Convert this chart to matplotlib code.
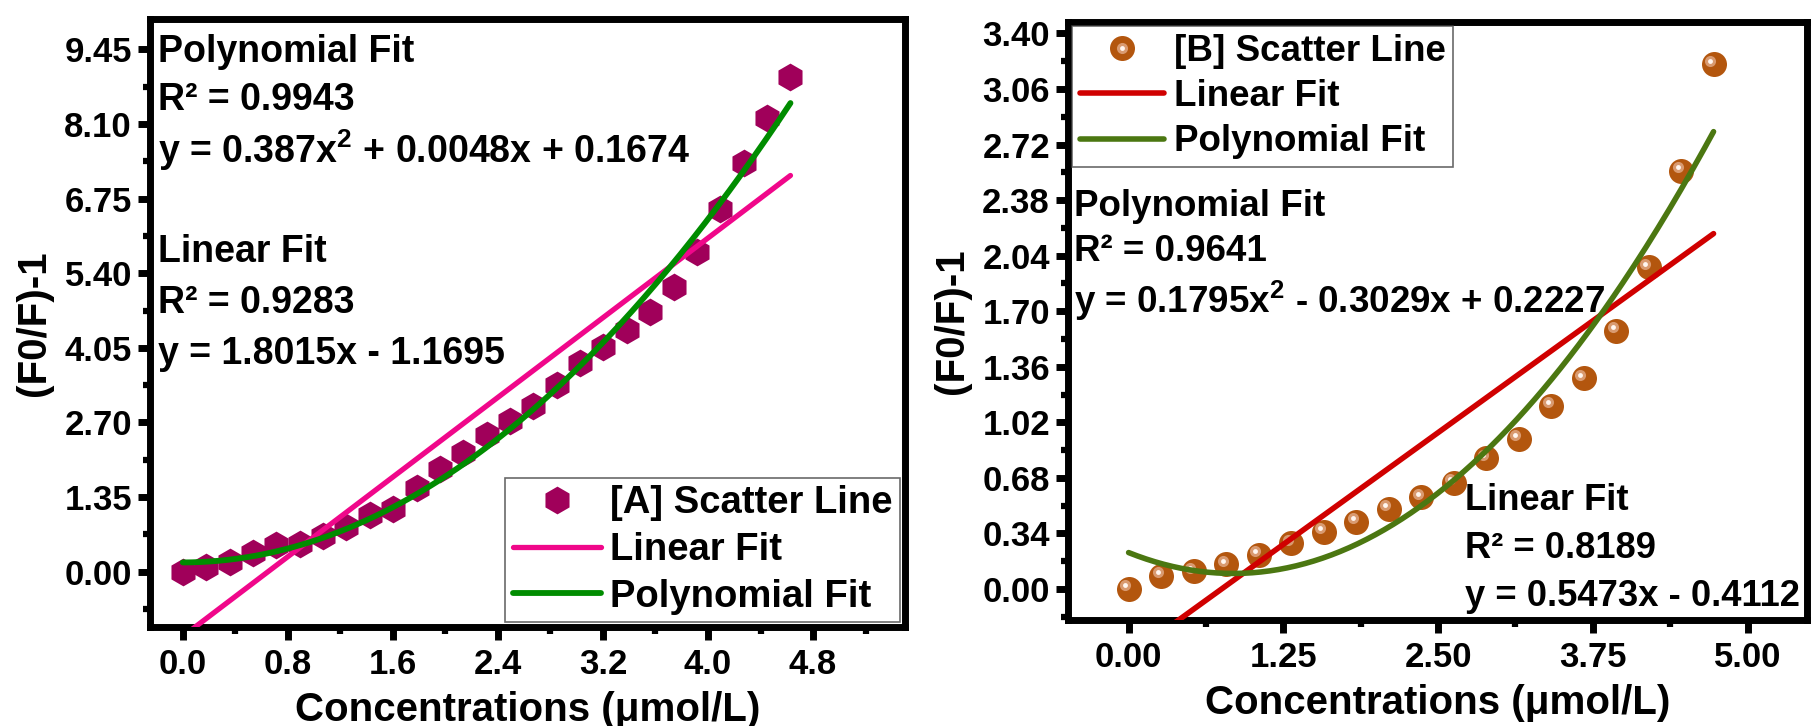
import matplotlib
matplotlib.use("Agg")
import matplotlib.pyplot as plt
import numpy as np
from matplotlib.transforms import offset_copy
from matplotlib.ticker import MultipleLocator, FormatStrFormatter

plt.rcParams["font.family"] = ["Liberation Sans", "DejaVu Sans"]
plt.rcParams["font.weight"] = "bold"
plt.rcParams["mathtext.fontset"] = "custom"
plt.rcParams["mathtext.rm"] = "Liberation Sans:bold"
plt.rcParams["mathtext.bf"] = "Liberation Sans:bold"

# Sample A
conc_a = [0.000, 0.178, 0.356, 0.534, 0.712, 0.890, 1.068, 1.246, 1.424, 1.602,
          1.780, 1.958, 2.136, 2.314, 2.492, 2.670, 2.848, 3.026, 3.204, 3.382,
          3.560, 3.738, 3.916, 4.094, 4.272, 4.450, 4.628]
quench_a = [0.00, 0.08, 0.18, 0.34, 0.48, 0.50, 0.64, 0.81, 1.02, 1.14,
            1.52, 1.85, 2.15, 2.48, 2.73, 3.00, 3.38, 3.77, 4.07, 4.38,
            4.69, 5.15, 5.78, 6.57, 7.40, 8.20, 8.95]
lin_a = (1.8015, -1.1695)
lin_r2_a = "0.9283"
poly_a = (0.387, 0.0048, 0.1674)
poly_r2_a = "0.9943"

# Sample B
conc_b = [0.000, 0.263, 0.525, 0.788, 1.050, 1.313, 1.575, 1.838, 2.100, 2.363,
          2.625, 2.888, 3.150, 3.413, 3.675, 3.938, 4.200, 4.463, 4.725]
quench_b = [0.00, 0.08, 0.11, 0.15, 0.21, 0.28, 0.35, 0.41, 0.49, 0.56,
            0.65, 0.80, 0.92, 1.12, 1.29, 1.58, 1.97, 2.56, 3.21]
lin_b = (0.5473, -0.4112)
lin_r2_b = "0.8189"
poly_b = (0.1795, -0.3029, 0.2227)
poly_r2_b = "0.9641"

TICK_FS = 25
SQ = r"$^{\mathbf{2}}$"


def style_axes(ax, xmaj, ymaj, xfmt, yfmt):
    for s in ax.spines.values():
        s.set_linewidth(5)
    ax.xaxis.set_major_locator(MultipleLocator(xmaj))
    ax.xaxis.set_minor_locator(MultipleLocator(xmaj / 2))
    ax.yaxis.set_major_locator(MultipleLocator(ymaj))
    ax.yaxis.set_minor_locator(MultipleLocator(ymaj / 2))
    ax.xaxis.set_major_formatter(FormatStrFormatter(xfmt))
    ax.yaxis.set_major_formatter(FormatStrFormatter(yfmt))
    ax.tick_params(which="major", direction="out", length=9, width=5,
                   labelsize=TICK_FS)
    ax.tick_params(which="minor", direction="out", length=5, width=4.5)
    ax.tick_params(axis="x", which="major", pad=6)
    ax.tick_params(axis="y", which="major", pad=4)
    for lab in ax.get_xticklabels() + ax.get_yticklabels():
        lab.set_fontweight("bold")
    ax.set_xlabel("Concentrations (μmol/L)", fontsize=29, fontweight="bold",
                  labelpad=7)
    ax.set_ylabel("(F0/F)-1", fontsize=29, fontweight="bold", labelpad=8)


def fit_curves(x, lin, poly):
    xs = np.linspace(0, max(x), 200)
    return xs, lin[0] * xs + lin[1], poly[0] * xs ** 2 + poly[1] * xs + poly[2]


def legend_box(ax, handles, labels, loc, size):
    leg = ax.legend(handles, labels, loc=loc, fontsize=size, frameon=True,
                    fancybox=False, handlelength=2.3, handletextpad=0.25,
                    borderpad=0.2, labelspacing=0.28, borderaxespad=0.12)
    leg.get_frame().set_edgecolor("#444444")
    leg.get_frame().set_linewidth(1.2)
    return leg


def notes(lines, x, size):
    for s, ypix in lines:
        fig.text(x / 1811, 1 - ypix / 726, s, fontsize=size, fontweight="bold",
                 va="center", ha="left")


fig = plt.figure(figsize=(18.11, 7.26), dpi=100)
ax1 = fig.add_axes([0.0828, 0.1364, 0.4169, 0.8375])
ax2 = fig.add_axes([0.5897, 0.146, 0.4081, 0.8237])

# Panel A
xs, ylin, ypoly = fit_curves(conc_a, lin_a, poly_a)
h_sc = ax1.plot(conc_a, quench_a, "h", ms=20, color="#A0005A", mec="none",
                zorder=2)[0]
h_lin = ax1.plot(xs, ylin, color="#F0078A", lw=3.8, solid_capstyle="round",
                 zorder=3)[0]
h_poly = ax1.plot(xs, ypoly, color="#008C00", lw=4.2, solid_capstyle="round",
                  zorder=4)[0]
ax1.set_xlim(-0.25, 5.5)
ax1.set_ylim(-1.0, 10.0)
style_axes(ax1, 0.8, 1.35, "%.1f", "%.2f")
legend_box(ax1, [h_sc, h_lin, h_poly],
           ["[A] Scatter Line", "Linear Fit", "Polynomial Fit"], "lower right",
           27.5)

notes([
    ("Polynomial Fit", 52),
    ("R² = " + poly_r2_a, 100),
    ("y = %gx%s + %gx + %g" % (poly_a[0], SQ, poly_a[1], poly_a[2]), 150),
    ("Linear Fit", 252),
    ("R² = " + lin_r2_a, 303),
    ("y = %gx - %g" % (lin_a[0], -lin_a[1]), 354),
], 158, 27)

# Panel B
xs, ylin, ypoly = fit_curves(conc_b, lin_b, poly_b)
base = ax2.plot(conc_b, quench_b, "o", ms=18, color="#B3560E", mec="none",
                zorder=2)[0]
hl_tr = offset_copy(ax2.transData, fig=fig, x=-2.5, y=2.5, units="points")
glow = ax2.plot(conc_b, quench_b, "o", ms=8, color="#D99A70", mec="none",
                transform=hl_tr, zorder=2.1)[0]
core = ax2.plot(conc_b, quench_b, "o", ms=3.5, color="#FFF6F0", mec="none",
                transform=hl_tr, zorder=2.2)[0]
l_lin = ax2.plot(xs, ylin, color="#D00000", lw=4, solid_capstyle="round",
                 zorder=3)[0]
l_poly = ax2.plot(xs, ypoly, color="#4B7711", lw=4, solid_capstyle="round",
                  zorder=4)[0]
ax2.set_xlim(-0.49, 5.48)
ax2.set_ylim(-0.19, 3.47)
style_axes(ax2, 1.25, 0.34, "%.2f", "%.2f")
legend_box(ax2, [(base, glow, core), l_lin, l_poly],
           ["[B] Scatter Line", "Linear Fit", "Polynomial Fit"], "upper left",
           26.5)

notes([
    ("Polynomial Fit", 206),
    ("R² = " + poly_r2_b, 252),
    ("y = %gx%s - %gx + %g" % (poly_b[0], SQ, -poly_b[1], poly_b[2]), 301),
], 1074, 26.5)
notes([
    ("Linear Fit", 501),
    ("R² = " + lin_r2_b, 548),
    ("y = %gx - %g" % (lin_b[0], -lin_b[1]), 596),
], 1465, 26.2)

fig.savefig("out.png", dpi=100)
